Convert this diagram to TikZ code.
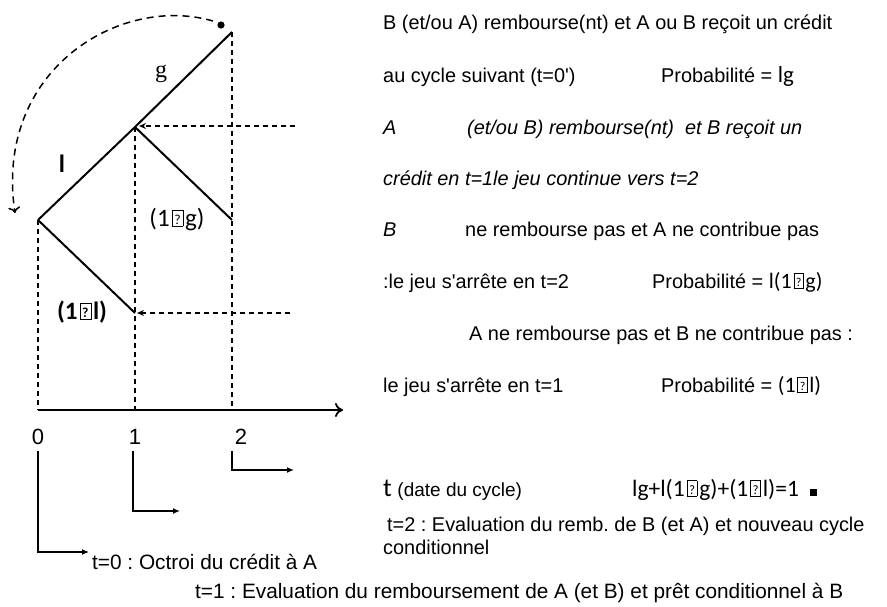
\documentclass[tikz,border=0pt]{standalone}
\usepackage{fontspec}
\setmainfont{Liberation Sans}
\newfontfamily\calib{Carlito}
\newfontfamily\tnr{Liberation Serif}
\usetikzlibrary{arrows.meta}
\newcommand\qbx{{\hspace{0.08em}\setlength\fboxsep{0pt}\setlength\fboxrule{0.5pt}\framebox[0.46em]{\rule{0pt}{0.64em}\raisebox{0.07em}{\scalebox{0.55}{?}}}\hspace{0.08em}}}
\begin{document}
\frenchspacing
\begin{tikzpicture}[x=1pt,y=-1pt,
  tree/.style={line width=2pt},
  dsh/.style={dash pattern=on 5pt off 4pt, line width=1.4pt},
  txt/.style={anchor=base west, inner sep=0pt, font=\fontsize{19.9}{22}\selectfont},
  btxt/.style={anchor=base west, inner sep=0pt, font=\fontsize{20.8}{22}\selectfont},
  lab/.style={inner sep=0pt},
  elb/.style={line width=1.5pt, -{Latex[length=7pt,width=6pt]}}]
\useasboundingbox (0,0) rectangle (887,606);
% tree points
\coordinate (top) at (232,32);
\coordinate (mid) at (135,127);
\coordinate (left) at (38,220);
\coordinate (gend) at (232,220);
\coordinate (lend) at (135,313);
\coordinate (a0) at (38,410);
\coordinate (a1) at (135,410);
\coordinate (a2) at (232,410);
\coordinate (aend) at (343,410);
% dashed verticals
\draw[dsh] (left) -- (a0);
\draw[dsh] (mid) -- (a1);
\draw[dsh] (top) -- (a2);
% tree
\draw[tree] (left) -- (mid) -- (top);
\draw[tree] (mid) -- (gend);
\draw[tree] (left) -- (lend);
% axis
\draw[line width=1.8pt, -{To[length=8pt,width=14pt]}] (a0) -- (aend);
% dashed horizontal arrows
\coordinate (h1s) at (295,126);
\coordinate (h1e) at (139,126);
\coordinate (h2s) at (290,313);
\coordinate (h2e) at (137,313);
\draw[dsh, -{Stealth[length=7pt,width=6pt]}] (h1s) -- (h1e);
\draw[dsh, -{Stealth[length=7pt,width=6pt]}] (h2s) -- (h2e);
% dot and curved arrow
\fill (221,25) circle (3.6pt);
\coordinate (cs) at (213,21);
\coordinate (ce) at (15,213);
\draw[dash pattern=on 7pt off 5pt, line width=1.5pt, -{To[length=6pt,width=12pt]}] (cs) .. controls (120,-6) and (-6,70) .. (ce);
% tree labels
\node[lab, font=\tnr\fontsize{24}{24}\selectfont] (g) at (161,74) {g};
\node[lab, font=\calib\bfseries\fontsize{25}{25}\selectfont] (l) at (62,164) {l};
\node[lab, font=\calib\fontsize{25}{25}\selectfont] (omg) at (177,219) {(1\qbx g)};
\node[lab, font=\calib\bfseries\fontsize{25}{25}\selectfont] (oml) at (82,312) {(1\qbx l)};
% axis digits
\node[lab, font=\fontsize{22}{22}\selectfont] (n0) at (38,437) {0};
\node[lab, font=\fontsize{22}{22}\selectfont] (n1) at (135,437) {1};
\node[lab, font=\fontsize{22}{22}\selectfont] (n2) at (241,437) {2};
% elbow arrows
\coordinate (e0a) at (38,451);
\coordinate (e0b) at (89,552);
\coordinate (e1a) at (133,451);
\coordinate (e1b) at (180,511);
\coordinate (e2a) at (232,451);
\coordinate (e2b) at (294,470);
\draw[elb] (e0a) |- (e0b);
\draw[elb] (e1a) |- (e1b);
\draw[elb] (e2a) |- (e2b);
% right texts
\node[txt] (r1) at (383,29) {B (et/ou A) rembourse(nt) et A ou B reçoit un crédit};
\node[txt] (r2) at (383,82) {au cycle suivant (t=0\textquotesingle)};
\node[txt] (p1) at (661,82) {Probabilité = {\calib\fontsize{23}{23}\selectfont lg}};
\node[txt, font=\itshape\fontsize{19.9}{22}\selectfont] (r3a) at (383,134) {A};
\node[txt, font=\itshape\fontsize{19.9}{22}\selectfont] (r3b) at (467,134) {(et/ou B) rembourse(nt)\ \ et B reçoit un};
\node[txt, font=\itshape\fontsize{19.9}{22}\selectfont] (r4) at (383,185) {crédit en t=1le jeu continue vers t=2};
\node[txt, font=\itshape\fontsize{19.9}{22}\selectfont] (r5a) at (383,236) {B};
\node[txt] (r5b) at (465,236) {ne rembourse pas et A ne contribue pas};
\node[txt] (r6) at (383,288) {:le jeu s\textquotesingle arrête en t=2};
\node[txt] (p2) at (652,288) {Probabilité = {\calib\fontsize{22}{22}\selectfont l(1\qbx g)}};
\node[txt] (r7) at (469,340) {A ne rembourse pas et B ne contribue pas :};
\node[txt] (r8) at (383,392) {le jeu s\textquotesingle arrête en t=1};
\node[txt] (p3) at (661,392) {Probabilité = {\calib\fontsize{22}{22}\selectfont (1\qbx l)}};
\node[txt] (r9) at (383,496) {{\calib\fontsize{26}{26}\selectfont t} {\fontsize{19}{20}\selectfont(date du cycle)}};
\node[txt, font=\calib\fontsize{23.5}{23.5}\selectfont] (sum) at (632,496) {lg+l(1\qbx g)+(1\qbx l)=1};
\fill (810,489) rectangle (817,496);
\node[txt] (r10) at (387,531) {t=2 : Evaluation du remb. de B (et A) et nouveau cycle};
\node[txt] (r11) at (383,554) {conditionnel};
\node[btxt] (b0) at (92,569) {t=0 : Octroi du crédit à A};
\node[btxt] (b1) at (195,598) {t=1 : Evaluation du remboursement de A (et B) et prêt conditionnel à B};
\end{tikzpicture}
\end{document}
